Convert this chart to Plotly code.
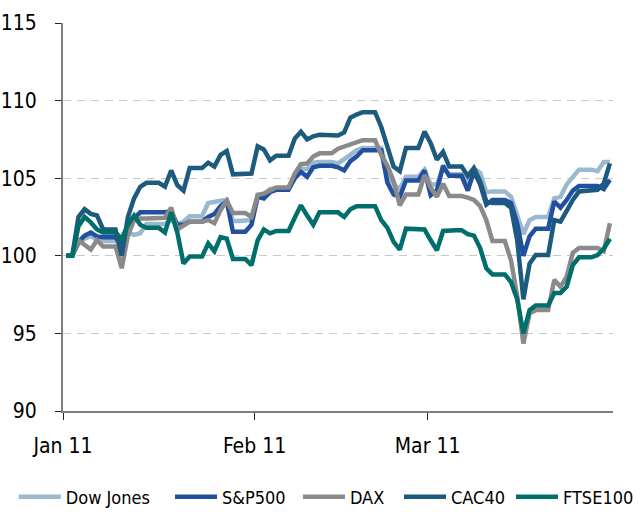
import plotly.graph_objects as go
import pandas as pd

# calendar days Jan 1 2011 .. Mar 30 2011 (weekends carry Friday's value)
dates = pd.date_range("2011-01-01", "2011-03-30", freq="D") + pd.Timedelta(hours=12)

dow_jones = [100, 100, 100.8, 101.1, 101.3, 101.0, 100.95, 100.95, 100.95,
             100.7, 101.5, 101.35, 101.45, 102.05, 102.05, 102.05,
             102.05, 102.3, 102.0, 102.2, 102.55, 102.55, 102.55,
             103.4, 103.5, 103.55, 103.6, 102.25, 102.25, 102.25,
             102.3, 103.95, 104.0, 104.3, 104.35, 104.35, 104.35,
             105.0, 105.6, 105.6, 106.0, 106.05, 106.05, 106.05,
             105.95, 106.2, 106.5, 106.8, 106.95, 106.95, 106.95,
             106.95, 105.3, 104.6, 104.3, 105.1, 105.1, 105.1,
             105.55, 104.6, 104.6, 105.65, 105.25, 105.25, 105.25,
             104.7, 105.6, 105.35, 104.1, 104.15, 104.15, 104.15,
             103.8, 102.5, 101.4, 102.3, 102.5, 102.5, 102.5,
             103.7, 103.8, 104.6, 105.1, 105.55, 105.55, 105.55,
             105.45, 106.05, 106.05]

sp500 = [100, 100, 100.9, 101.3, 101.5, 101.25, 101.2, 101.2, 101.2,
         100.6, 101.8, 102.4, 102.8, 102.8, 102.8, 102.8,
         102.8, 102.9, 102.0, 102.0, 102.2, 102.2, 102.2,
         102.5, 102.7, 103.2, 103.5, 101.55, 101.55, 101.55,
         102.0, 103.8, 103.7, 104.1, 104.25, 104.25, 104.25,
         105.0, 105.4, 105.1, 105.7, 105.8, 105.8, 105.8,
         105.7, 105.5, 106.1, 106.4, 106.8, 106.8, 106.8,
         106.8, 104.7, 103.95, 103.8, 104.85, 104.85, 104.85,
         105.5, 103.9, 104.2, 105.8, 105.15, 105.15, 105.15,
         104.2, 105.45, 104.6, 103.3, 103.6, 103.6, 103.6,
         103.4, 102.1, 100.0, 101.25, 101.75, 101.75, 101.75,
         103.5, 103.1, 103.6, 104.2, 104.5, 104.5, 104.5,
         104.5, 104.3, 104.9]

dax = [100, 100, 101.0, 100.7, 100.4, 101.0, 100.6, 100.6, 100.6,
       99.2, 101.3, 102.3, 102.4, 102.4, 102.4, 102.4,
       102.45, 103.1, 101.7, 101.95, 102.2, 102.2, 102.2,
       102.3, 102.1, 102.95, 103.55, 102.75, 102.75, 102.75,
       102.5, 103.9, 104.0, 104.2, 104.4, 104.4, 104.4,
       105.3, 105.9, 105.95, 106.4, 106.6, 106.6, 106.6,
       106.9, 107.05, 107.2, 107.3, 107.45, 107.45, 107.45,
       106.5, 105.8, 104.8, 103.25, 103.95, 103.95, 103.95,
       105.2, 104.4, 103.8, 104.65, 103.85, 103.85, 103.85,
       103.75, 103.6, 103.2, 102.3, 100.95, 100.95, 100.95,
       99.7, 97.4, 94.35, 96.3, 96.5, 96.5, 96.5,
       98.45, 98.0, 98.65, 100.2, 100.5, 100.5, 100.5,
       100.5, 100.3, 102.1]

cac40 = [100, 100, 102.5, 103.0, 102.7, 102.6, 101.7, 101.7, 101.7,
         100.0, 102.5, 103.7, 104.45, 104.7, 104.7, 104.7,
         104.45, 105.5, 104.55, 104.2, 105.65, 105.65, 105.65,
         106.0, 105.75, 106.5, 106.75, 105.25, 105.25, 105.25,
         105.3, 107.05, 106.85, 106.15, 106.45, 106.45, 106.45,
         107.55, 108.0, 107.5, 107.7, 107.8, 107.8, 107.8,
         107.75, 107.95, 108.9, 109.1, 109.25, 109.25, 109.25,
         108.3, 107.0, 105.75, 105.45, 106.95, 106.95, 106.95,
         108.0, 107.25, 106.2, 106.7, 105.75, 105.75, 105.75,
         105.15, 105.65, 104.8, 103.5, 103.4, 103.4, 103.4,
         103.1, 101.0, 97.2, 99.5, 100.05, 100.05, 100.05,
         102.3, 102.2, 102.9, 103.6, 104.15, 104.2, 104.2,
         104.25, 104.65, 105.95]

ftse100 = [100, 100, 101.9, 102.5, 102.15, 101.7, 101.5, 101.5, 101.5,
           101.1, 102.0, 102.6, 102.0, 101.8, 101.8, 101.8,
           101.5, 102.8, 101.5, 99.5, 99.95, 99.95, 99.95,
           100.8, 100.3, 101.2, 101.1, 99.8, 99.8, 99.8,
           99.4, 101.0, 101.7, 101.45, 101.6, 101.6, 101.6,
           102.45, 103.25, 102.6, 102.0, 102.8, 102.8, 102.8,
           102.8, 102.5, 103.0, 103.2, 103.2, 103.2, 103.2,
           102.3, 101.8, 100.9, 100.4, 101.75, 101.75, 101.75,
           101.7, 101.0, 100.35, 101.6, 101.65, 101.65, 101.65,
           101.4, 101.3, 100.5, 99.2, 98.8, 98.8, 98.8,
           98.3, 97.2, 95.0, 96.5, 96.8, 96.8, 96.8,
           97.6, 97.6, 98.0, 99.4, 99.9, 99.9, 99.9,
           100.05, 100.45, 101.1]

series_names = ["Dow Jones", "S&P500", "DAX", "CAC40", "FTSE100"]
series_values = [dow_jones, sp500, dax, cac40, ftse100]
series_colors = ["#9BB9CE", "#2150A0", "#8A8A8A", "#1D5B7E", "#006E6A"]

x_tick_vals = ["2011-01-01", "2011-02-01", "2011-03-01"]
x_tick_text = ["Jan 11", "Feb 11", "Mar 11"]
y_tick_vals = [90, 95, 100, 105, 110, 115]

FONT = "DejaVu Sans Condensed, DejaVu Sans, sans-serif"

# one legend per series so each entry sits where it does in the original
legend_ids = ["legend", "legend2", "legend3", "legend4", "legend5"]
legend_x = [-0.0895, 0.1946, 0.4272, 0.6109, 0.8145]

fig = go.Figure()
for name, vals, col, lid in zip(series_names, series_values, series_colors, legend_ids):
    fig.add_trace(go.Scatter(x=dates, y=vals, name=name, mode="lines",
                             line=dict(color=col, width=4.5), legend=lid))

legend_layout = {}
for lid, lx in zip(legend_ids, legend_x):
    legend_layout[lid] = dict(orientation="h", x=lx, xanchor="left", y=-0.222,
                              yanchor="middle", font=dict(size=18, family=FONT, color="black"),
                              itemwidth=42, bgcolor="rgba(0,0,0,0)")

fig.update_layout(
    width=640, height=512,
    margin=dict(l=63, r=27, t=23, b=101, autoexpand=False),
    plot_bgcolor="white", paper_bgcolor="white",
    font=dict(family=FONT, size=21, color="black"),
    showlegend=True,
    **legend_layout,
)
fig.update_xaxes(type="date", range=["2011-01-01", "2011-03-31"],
                 tickmode="array", tickvals=x_tick_vals, ticktext=x_tick_text,
                 showline=True, linecolor="#7f7f7f", linewidth=2,
                 ticks="outside", ticklen=7, tickwidth=1, tickcolor="#222",
                 showgrid=False, zeroline=False, ticklabelstandoff=8)
fig.update_yaxes(range=[90, 115], tickmode="array", tickvals=y_tick_vals,
                 showline=True, linecolor="#7f7f7f", linewidth=2,
                 ticks="outside", ticklen=6, tickwidth=1, tickcolor="#222",
                 showgrid=True, gridcolor="#c9c9c9", gridwidth=1, griddash="8px,6px",
                 zeroline=False, ticklabelstandoff=14)

fig.write_html("out.html", config={"displayModeBar": False},
               post_script="document.body.style.margin='0';")
